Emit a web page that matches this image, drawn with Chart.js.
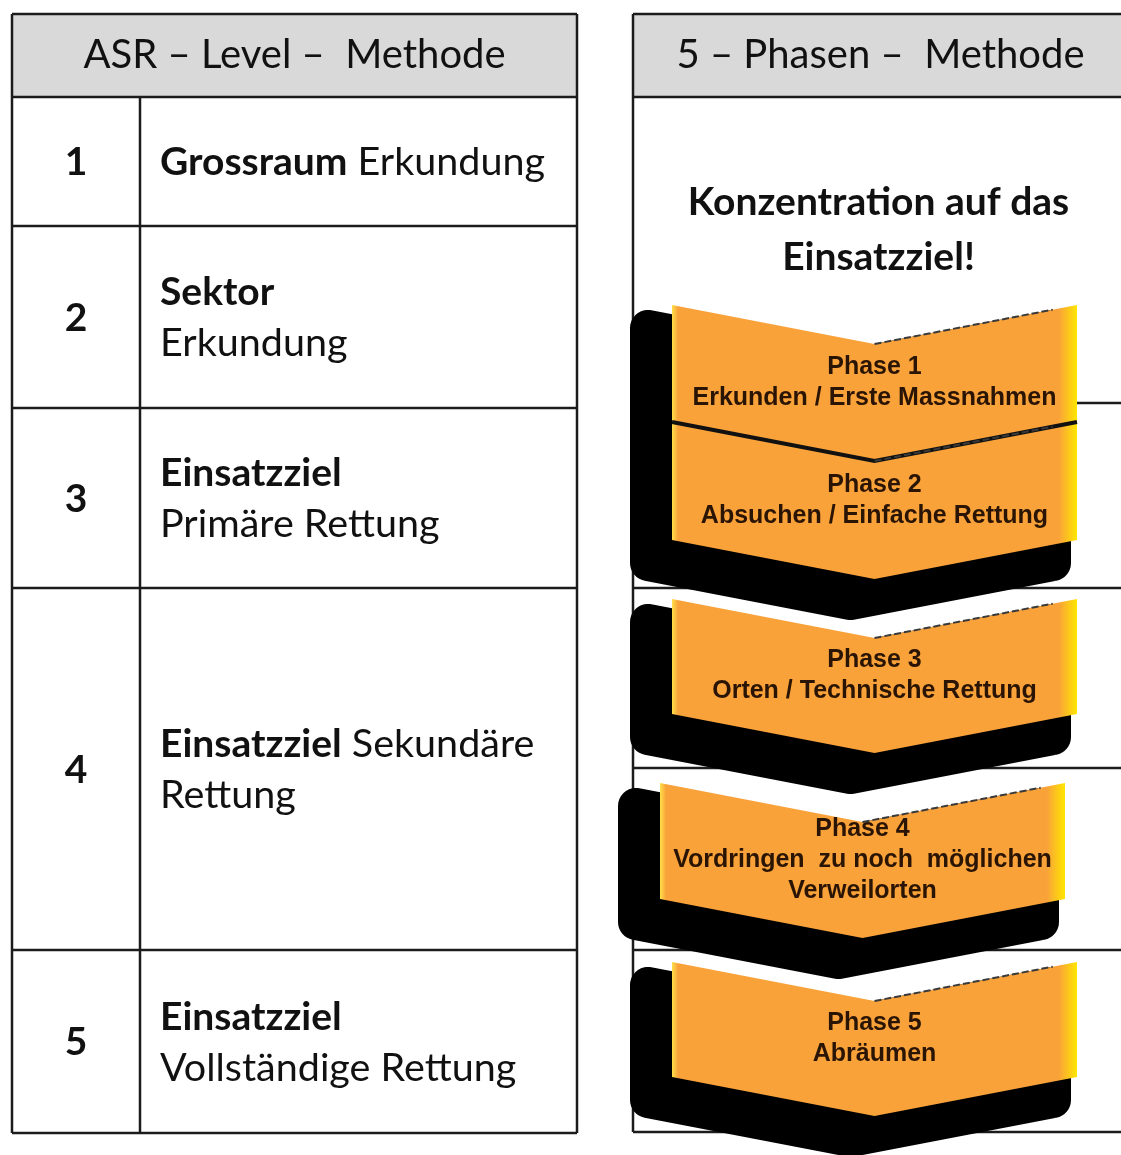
<!DOCTYPE html>
<html lang="de">
<head>
<meta charset="utf-8">
<title>ASR-Level-Methode / 5-Phasen-Methode</title>
<script src="https://cdn.jsdelivr.net/npm/chart.js@4.4.1/dist/chart.umd.min.js"></script>
<style>
  html, body { margin: 0; padding: 0; background: #fff; }
  #diagram { display: block; }
</style>
</head>
<body>
<canvas id="diagram" width="1121" height="1155"></canvas>
<script>
// left table: ASR levels
const levelHeader = 'ASR – Level –  Methode';
const levelNumbers = ['1', '2', '3', '4', '5'];
const levelBold = ['Grossraum', 'Sektor', 'Einsatzziel', 'Einsatzziel', 'Einsatzziel'];
const levelPlain = [' Erkundung', '\nErkundung', '\nPrimäre Rettung', ' Sekundäre\nRettung', '\nVollständige Rettung'];
const levelRowEdges = [14, 97, 226, 408, 588, 950, 1133];
const levelColEdges = [12, 140, 577];

// right table: 5 phases
const phaseHeader = '5 – Phasen –  Methode';
const phaseIntro = ['Konzentration auf das', 'Einsatzziel!'];
const phaseRowEdges = [14, 97, 403, 588, 768, 950, 1132];
const phaseColEdges = [633, 1128];
const phaseTitles = ['Phase 1', 'Phase 2', 'Phase 3', 'Phase 4', 'Phase 5'];
const phaseTexts = [
  'Erkunden / Erste Massnahmen',
  'Absuchen / Einfache Rettung',
  'Orten / Technische Rettung',
  'Vordringen  zu noch  möglichen\nVerweilorten',
  'Abräumen'
];
const phaseTop = [305, 422, 599, 783, 962];
const phaseBottom = [422, 540, 714, 899, 1077];
const phaseLeft = [672, 672, 672, 660, 672];
const phaseRight = [1077, 1077, 1077, 1065, 1077];

const NOTCH = 39;
const SHADOW_DX = -24;
const SHADOW_DY = 23;
const LINE_COLOR = '#1c1c1c';
const HEADER_FILL = '#d9d9d9';
const ORANGE = '#f9a23a';
const PHASE_TEXT = '#2a1404';
const CAL = 'Lato, "Open Sans", sans-serif';

function chevronPoints(i, dx = 0, dy = 0) {
  const l = phaseLeft[i] + dx;
  const r = phaseRight[i] + dx;
  const c = (phaseLeft[i] + phaseRight[i]) / 2 + dx;
  const t = phaseTop[i] + dy;
  const b = phaseBottom[i] + dy;
  return [
    { x: l, y: t }, { x: c, y: t + NOTCH }, { x: r, y: t },
    { x: r, y: b }, { x: c, y: b + NOTCH }, { x: l, y: b }, { x: l, y: t }
  ];
}

// the thin dashed edge from the notch up towards the right corner
function notchEdge(i) {
  const pts = chevronPoints(i);
  const a = pts[1];
  const b = pts[2];
  return [a, { x: a.x + (b.x - a.x) * 0.88, y: a.y + (b.y - a.y) * 0.88 }];
}

function orangeFill(chart, i) {
  const x = chart.scales.x;
  if (!x) return ORANGE;
  const l = x.getPixelForValue(phaseLeft[i]);
  const r = x.getPixelForValue(phaseRight[i]);
  if (!isFinite(l) || !isFinite(r) || r <= l) return ORANGE;
  const g = chart.ctx.createLinearGradient(l, 0, r, 0);
  g.addColorStop(0, '#ffe04a');
  g.addColorStop(0.015, ORANGE);
  g.addColorStop(0.955, ORANGE);
  g.addColorStop(1, '#ffe600');
  return g;
}

const datasets = [];

phaseTitles.forEach((title, i) => {
  datasets.push({
    label: title + ' Schatten',
    data: chevronPoints(i, SHADOW_DX, SHADOW_DY),
    borderColor: '#000',
    backgroundColor: '#000',
    borderWidth: 36,
    borderJoinStyle: 'round',
    borderCapStyle: 'round',
    fill: 'shape',
    pointRadius: 0,
    tension: 0,
    clip: false,
    order: 3
  });
  datasets.push({
    label: title,
    data: chevronPoints(i),
    borderWidth: 0,
    borderColor: 'rgba(0,0,0,0)',
    backgroundColor: (context) => orangeFill(context.chart, i),
    fill: 'shape',
    pointRadius: 0,
    tension: 0,
    clip: false,
    order: 2
  });
  datasets.push({
    label: title + ' Kante',
    data: notchEdge(i),
    borderColor: '#3a3a3a',
    borderWidth: 2,
    borderDash: [7, 3],
    fill: false,
    pointRadius: 0,
    tension: 0,
    clip: false,
    order: 1
  });
});

// dividing line between phase 1 and phase 2
datasets.push({
  label: 'Trennlinie',
  data: chevronPoints(0).slice(3, 6),
  borderColor: '#111',
  borderWidth: 4,
  fill: false,
  pointRadius: 0,
  tension: 0,
  clip: false,
  order: 1
});

function drawGrid(ctx, px, py, rows, cols, innerCols) {
  ctx.fillStyle = HEADER_FILL;
  ctx.fillRect(px(cols[0]), py(rows[0]), px(cols[cols.length - 1]) - px(cols[0]), py(rows[1]) - py(rows[0]));
  ctx.strokeStyle = LINE_COLOR;
  ctx.lineWidth = 2.5;
  ctx.beginPath();
  rows.forEach((r) => {
    ctx.moveTo(px(cols[0]), py(r));
    ctx.lineTo(px(cols[cols.length - 1]), py(r));
  });
  cols.forEach((c, k) => {
    const inner = k > 0 && k < cols.length - 1;
    if (inner && !innerCols) return;
    ctx.moveTo(px(c), py(inner ? rows[1] : rows[0]));
    ctx.lineTo(px(c), py(rows[rows.length - 1]));
  });
  ctx.stroke();
}

const diagramPlugin = {
  id: 'diagram',
  beforeDatasetsDraw(chart) {
    const { ctx, scales: { x, y } } = chart;
    const px = (v) => x.getPixelForValue(v);
    const py = (v) => y.getPixelForValue(v);
    ctx.save();

    drawGrid(ctx, px, py, levelRowEdges, levelColEdges, true);
    drawGrid(ctx, px, py, phaseRowEdges, phaseColEdges, false);

    ctx.fillStyle = '#111';
    ctx.textBaseline = 'middle';

    // headers
    ctx.textAlign = 'center';
    ctx.font = `400 40px ${CAL}`;
    ctx.fillText(levelHeader, px((levelColEdges[0] + levelColEdges[2]) / 2), py((levelRowEdges[0] + levelRowEdges[1]) / 2));
    ctx.fillText(phaseHeader, px((phaseColEdges[0] + phaseColEdges[1]) / 2), py((phaseRowEdges[0] + phaseRowEdges[1]) / 2));

    // level rows
    const lineGap = 51;
    levelNumbers.forEach((num, i) => {
      const mid = (levelRowEdges[i + 1] + levelRowEdges[i + 2]) / 2 + 1;
      ctx.textAlign = 'center';
      ctx.font = `700 39px ${CAL}`;
      ctx.fillText(num, px((levelColEdges[0] + levelColEdges[1]) / 2), py(mid));

      const lines = (levelBold[i] + levelPlain[i]).split('\n');
      const top = mid - (lines.length - 1) * lineGap / 2;
      const left = px(levelColEdges[1] + 20);
      ctx.textAlign = 'left';
      lines.forEach((line, k) => {
        const yy = py(top + k * lineGap);
        let xx = left;
        if (k === 0) {
          ctx.font = `700 39px ${CAL}`;
          ctx.fillText(levelBold[i], xx, yy);
          xx += ctx.measureText(levelBold[i]).width;
          line = line.slice(levelBold[i].length);
        }
        ctx.font = `400 39.5px ${CAL}`;
        ctx.fillText(line, xx, yy);
      });
    });

    // intro text above the phases
    ctx.textAlign = 'center';
    ctx.font = `700 39px ${CAL}`;
    phaseIntro.forEach((line, k) => {
      ctx.fillText(line, px((phaseColEdges[0] + phaseColEdges[1]) / 2 - 2), py(phaseRowEdges[1] + 105 + k * 55));
    });

    ctx.restore();
  },
  afterDatasetsDraw(chart) {
    const { ctx, scales: { x, y } } = chart;
    ctx.save();
    ctx.fillStyle = PHASE_TEXT;
    ctx.textAlign = 'center';
    ctx.textBaseline = 'middle';
    ctx.font = 'bold 25px "Liberation Sans", Arial, sans-serif';
    phaseTitles.forEach((title, i) => {
      const lines = [title].concat(phaseTexts[i].split('\n'));
      const mid = (phaseTop[i] + NOTCH + phaseBottom[i]) / 2;
      const cx = x.getPixelForValue((phaseLeft[i] + phaseRight[i]) / 2);
      lines.forEach((line, k) => {
        const yy = mid + (k - (lines.length - 1) / 2) * 31;
        ctx.fillText(line, cx, y.getPixelForValue(yy));
      });
    });
    ctx.restore();
  }
};

new Chart(document.getElementById('diagram'), {
  type: 'line',
  data: { datasets },
  options: {
    responsive: false,
    animation: false,
    events: [],
    layout: { padding: 0 },
    plugins: {
      legend: { display: false },
      tooltip: { enabled: false }
    },
    scales: {
      x: { type: 'linear', min: 0, max: 1121, display: false },
      y: { type: 'linear', min: 0, max: 1155, reverse: true, display: false }
    }
  },
  plugins: [diagramPlugin]
});
</script>
</body>
</html>
